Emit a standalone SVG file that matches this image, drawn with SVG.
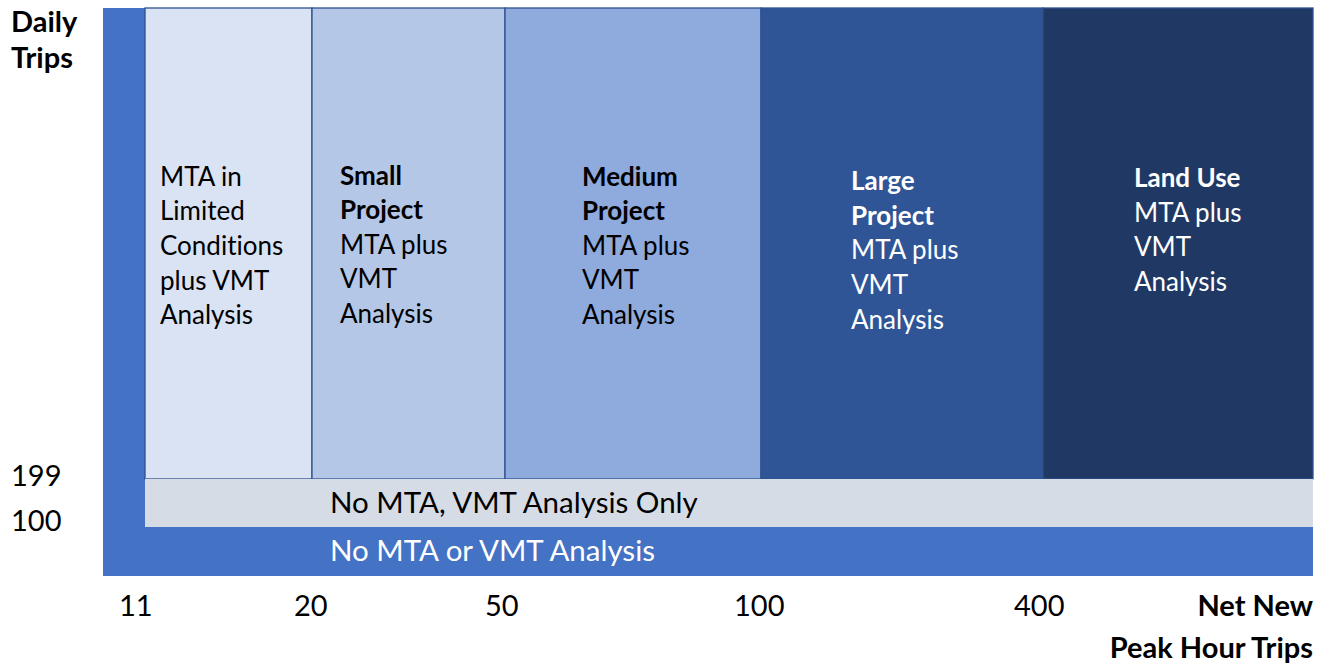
<svg xmlns="http://www.w3.org/2000/svg" width="1329" height="665" viewBox="0 0 1329 665">
<style>
text{font-family:Lato,"Open Sans","Liberation Sans",sans-serif;font-size:26px;fill:#000;font-variant-ligatures:none}
.b{font-weight:bold}
.w{fill:#fff}
.col{stroke:#2F528F;stroke-width:1.3}
.ax{font-size:29px}
.band{font-size:29.5px}
</style>
<rect width="1329" height="665" fill="#fff"/>
<g id="base"><rect x="103" y="8" width="1210" height="568" fill="#4472C4"/></g>
<g id="col1"><rect class="col" x="145" y="8" width="167" height="471" fill="#DAE3F3"/>
<text x="160" y="186">MTA in</text><text x="160" y="220">Limited</text><text x="160" y="255">Conditions</text><text x="160" y="290">plus VMT</text><text x="160" y="324">Analysis</text></g>
<g id="col2"><rect class="col" x="312" y="8" width="193" height="471" fill="#B4C7E7"/>
<text class="b" x="340" y="185">Small</text><text class="b" x="340" y="219">Project</text><text x="340" y="254">MTA plus</text><text x="340" y="288">VMT</text><text x="340" y="323">Analysis</text></g>
<g id="col3"><rect class="col" x="505" y="8" width="256" height="471" fill="#8FAADC"/>
<text class="b" x="582" y="186">Medium</text><text class="b" x="582" y="220">Project</text><text x="582" y="255">MTA plus</text><text x="582" y="289">VMT</text><text x="582" y="324">Analysis</text></g>
<g id="col4"><rect class="col" x="761" y="8" width="282" height="471" fill="#2F5597"/>
<text class="b w" x="851" y="190">Large</text><text class="b w" x="851" y="225">Project</text><text class="w" x="851" y="259">MTA plus</text><text class="w" x="851" y="294">VMT</text><text class="w" x="851" y="329">Analysis</text></g>
<g id="col5"><rect class="col" x="1043" y="8" width="270" height="471" fill="#203864"/>
<text class="b w" x="1134" y="187">Land Use</text><text class="w" x="1134" y="222">MTA plus</text><text class="w" x="1134" y="256">VMT</text><text class="w" x="1134" y="291">Analysis</text></g>
<g id="vmtonly"><rect x="145" y="479" width="1168" height="48" fill="#D6DCE5"/>
<text class="band" x="330" y="513">No MTA, VMT Analysis Only</text></g>
<g id="none"><text class="band w" x="330" y="561">No MTA or VMT Analysis</text></g>
<g id="yaxis"><text class="b ax" x="11" y="32">Daily</text><text class="b ax" x="11" y="68">Trips</text>
<text class="ax" x="11" y="486">199</text><text class="ax" x="11" y="531">100</text></g>
<g id="xaxis"><text class="ax" x="119" y="616">11</text><text class="ax" x="294" y="616">20</text><text class="ax" x="485" y="616">50</text><text class="ax" x="734" y="616">100</text><text class="ax" x="1014" y="616">400</text>
<text class="b ax" x="1313" y="616" text-anchor="end">Net New</text><text class="b ax" x="1313" y="658" text-anchor="end">Peak Hour Trips</text></g>
<g id="connectors"/>
</svg>
